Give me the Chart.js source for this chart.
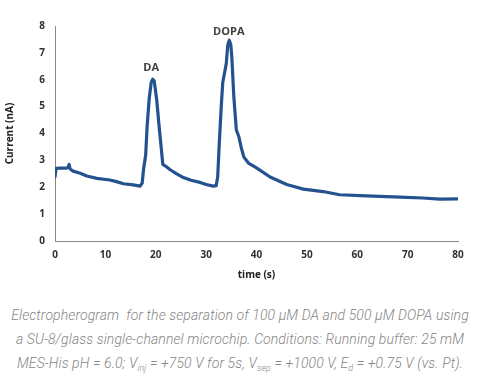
<!DOCTYPE html>
<html>
<head>
<meta charset="utf-8">
<script src="https://cdn.jsdelivr.net/npm/chart.js@4/dist/chart.umd.min.js"></script>
<style>
  html, body { margin: 0; padding: 0; background: #fff; }
  #wrap { position: relative; width: 480px; height: 285px; }
  #cap { width: 480px; text-align: center; font-family: Roboto, sans-serif; font-style: italic; font-weight: 300;
         font-size: 14px; line-height: 24px; color: #858585; margin-top: 18px; letter-spacing: 0.1px; }
  #cap sub { font-size: 9px; vertical-align: -3px; line-height: 0; }
</style>
</head>
<body>
<div id="wrap"><canvas id="c"></canvas></div>
<div id="cap">Electropherogram&nbsp; for the separation of 100 μM DA and 500 μM DOPA using<br>a SU-8/glass single-channel microchip. Conditions: Running buffer: 25 mM<br>MES-His pH = 6.0; V<sub>inj</sub> = +750 V for 5s, V<sub>sep</sub> = +1000 V, E<sub>d</sub> = +0.75 V (vs. Pt).</div>
<script>
const timeS = [0, 0.2, 1, 2.3, 2.6, 2.8, 3.0, 3.6, 5, 6.3, 8.3, 10.9, 12.2, 13.6, 15.5, 16.9, 17.3, 17.6, 18.0, 18.3, 18.7, 19.1, 19.4, 19.7, 20.2, 20.6, 21.0, 21.4, 22.0, 22.8, 24.0, 25.5, 27.0, 28.8, 30.0, 31.4, 32.0, 32.3, 32.6, 33.0, 33.3, 33.7, 34.0, 34.3, 34.6, 34.9, 35.1, 35.5, 36.0, 36.5, 37.0, 37.5, 38.4, 40.0, 42.7, 46, 49.3, 53.2, 56.5, 61.8, 68.5, 73, 76.4, 80];
const currentNA = [2.39, 2.70, 2.71, 2.71, 2.74, 2.85, 2.68, 2.60, 2.52, 2.42, 2.33, 2.27, 2.21, 2.13, 2.09, 2.04, 2.15, 2.7, 3.2, 4.3, 5.3, 5.9, 6.02, 5.95, 5.24, 4.4, 3.63, 2.85, 2.78, 2.66, 2.52, 2.36, 2.26, 2.18, 2.10, 2.04, 2.06, 2.39, 3.6, 5.0, 5.9, 6.3, 6.6, 7.3, 7.47, 7.3, 6.85, 5.36, 4.13, 3.88, 3.45, 3.12, 2.9, 2.72, 2.38, 2.10, 1.93, 1.84, 1.72, 1.68, 1.63, 1.60, 1.56, 1.57];
const peakNames = ['DA', 'DOPA'];
const peakTimes = [19.1, 34.5];
const peakLabelY = [6.43, 7.8];
const xTicks = [0, 10, 20, 30, 40, 50, 60, 70, 80];
const yTicks = [0, 1, 2, 3, 4, 5, 6, 7, 8];

const points = timeS.map((t, i) => ({x: t, y: currentNA[i]}));

const peakLabels = {
  id: 'peakLabels',
  afterDatasetsDraw(chart) {
    const {ctx, scales: {x, y}} = chart;
    ctx.save();
    ctx.font = 'bold 11px "Open Sans", sans-serif';
    ctx.fillStyle = '#404040';
    ctx.textAlign = 'center';
    ctx.textBaseline = 'middle';
    peakNames.forEach((n, i) => ctx.fillText(n, x.getPixelForValue(peakTimes[i]), y.getPixelForValue(peakLabelY[i])));
    ctx.restore();
  }
};

const tickFont = {family: '"Open Sans", sans-serif', size: 10, weight: 'bold'};
new Chart(document.getElementById('c'), {
  type: 'line',
  data: { datasets: [{ data: points, borderColor: '#24528f', borderWidth: 3.2, pointRadius: 0, tension: 0, fill: false, borderJoinStyle: 'round', borderCapStyle: 'round' }] },
  options: {
    responsive: true, maintainAspectRatio: false, animation: false,
    layout: { padding: { top: 26, right: 22, left: 0, bottom: 0 } },
    plugins: { legend: { display: false }, tooltip: { enabled: false } },
    scales: {
      x: {
        type: 'linear', min: 0, max: 80,
        afterBuildTicks: s => { s.ticks = xTicks.map(v => ({value: v})); },
        grid: { display: false, drawTicks: true, tickLength: 4, color: '#888' },
        border: { color: '#888', width: 1 },
        ticks: { color: '#303030', font: tickFont, padding: 4, maxRotation: 0 },
        title: { display: true, text: 'time (s)', color: '#202020', font: {family: '"Open Sans", sans-serif', size: 10, weight: 'bold'}, padding: {top: 3} },
        afterFit: s => { s.height = 44; }
      },
      y: {
        min: 0, max: 8,
        afterBuildTicks: s => { s.ticks = yTicks.map(v => ({value: v})); },
        grid: { display: false, drawTicks: true, tickLength: 4, color: '#888' },
        border: { color: '#888', width: 1 },
        ticks: { color: '#303030', font: tickFont, padding: 6 },
        title: { display: true, text: 'Current (nA)', color: '#202020', font: {family: '"Open Sans", sans-serif', size: 10, weight: 'bold'}, padding: {bottom: 4} },
        afterFit: s => { s.width = 55; }
      }
    }
  },
  plugins: [peakLabels]
});
</script>
</body>
</html>
